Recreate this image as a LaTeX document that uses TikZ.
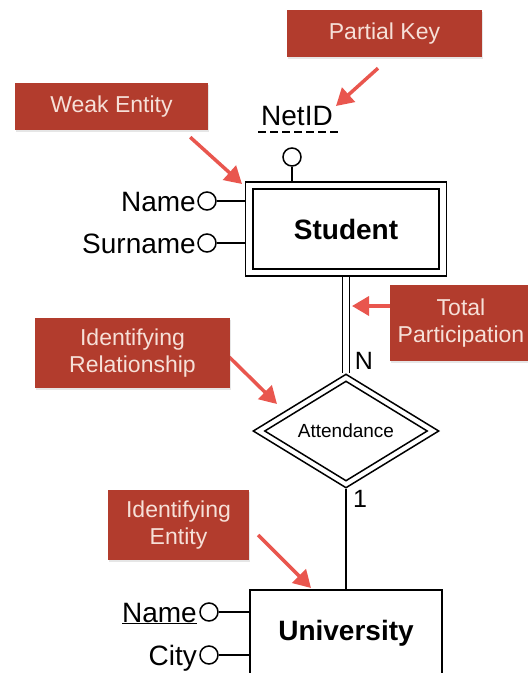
\documentclass[tikz,border=0pt]{standalone}
\usepackage{fontspec}
\setmainfont{Liberation Sans}
\usetikzlibrary{shapes.geometric,arrows.meta,calc,shadows,backgrounds}
\definecolor{callred}{RGB}{178,60,45}
\definecolor{calltext}{RGB}{246,224,216}
\definecolor{arrowred}{RGB}{233,86,78}
\begin{document}
\begin{tikzpicture}[x=1pt,y=-1pt,
  ent/.style={draw, line width=1.6pt, rectangle, inner sep=0pt},
  attr/.style={draw, circle, line width=1.5pt, minimum size=18pt, inner sep=0pt},
  lbl/.style={inner sep=0pt, font=\fontsize{28}{32}\selectfont},
  card/.style={inner sep=0pt, font=\fontsize{25}{30}\selectfont},
  call/.style={fill=callred, text=calltext, inner sep=0pt, align=center,
    font=\fontsize{23}{27}\selectfont,
    drop shadow={opacity=0.2, shadow xshift=1pt, shadow yshift=-1.5pt}},
  callarrow/.style={arrowred, line width=3.5pt, -{Triangle[length=17pt,width=19pt]}},
  conn/.style={line width=1.6pt}]
\useasboundingbox (0,0) rectangle (528,673);
\clip (0,0) rectangle (528,673);

% callout boxes
\node[call, minimum width=195pt, minimum height=47pt] (pk) at (384.5,33.5) {Partial Key};
\node[call, minimum width=193pt, minimum height=47pt] (we) at (111.5,106.5) {Weak Entity};
\node[call, minimum width=142pt, minimum height=76pt] (tp) at (461,323) {Total\\Participation};
\node[call, minimum width=195pt, minimum height=70pt] (ir) at (132.5,353) {Identifying\\Relationship};
\node[call, minimum width=141pt, minimum height=70pt] (ie) at (178.5,525) {Identifying\\Entity};

% entities and relationship
\node[ent, minimum width=201pt, minimum height=94pt, font=\bfseries\fontsize{28}{32}\selectfont] (stu) at (346,229) {Student};
\node[ent, minimum width=186pt, minimum height=80pt] (stuin) at (stu.center) {};
\node[diamond, draw, line width=1.5pt, aspect=1.6, minimum width=186pt, minimum height=114pt, inner sep=0pt, font=\fontsize{19}{22}\selectfont] (att) at (346,431) {Attendance};
\node[diamond, draw, line width=1.5pt, aspect=1.6, minimum width=163pt, minimum height=100pt, inner sep=0pt] (attin) at (att.center) {};
\node[ent, minimum width=192pt, minimum height=86pt, font=\bfseries\fontsize{28}{32}\selectfont] (uni) at (346,633) {University};

% attributes
\node[attr] (netidc) at (292,157) {};
\node[lbl, anchor=base] (netid) at (297,125) {NetID};
\node[attr] (nmc) at (207,201) {};
\node[lbl, anchor=base east] (nm) at (196,211) {Name};
\node[attr] (snc) at (207,243) {};
\node[lbl, anchor=base east] (sn) at (196,253) {Surname};
\node[attr] (unc) at (209,612) {};
\node[lbl, anchor=base east] (un) at (197,622) {\underline{Name}};
\node[attr] (ctc) at (209,655) {};
\node[lbl, anchor=base east] (ct) at (197,665) {City};

% cardinalities
\node[card] (cn) at (364,361) {N};
\node[card] (c1) at (360,499) {1};

% connectors
\draw[conn] (netidc.south) -- (netidc.south |- stu.north);
\draw[line width=1.5pt, dash pattern=on 8pt off 4pt] ([shift={(-3pt,-7pt)}]netid.base west) -- ([shift={(6pt,-7pt)}]netid.base east);
\draw[conn] (nmc.east) -- (nmc.east -| stu.west);
\draw[conn] (snc.east) -- (snc.east -| stu.west);
\draw[conn] (unc.east) -- (unc.east -| uni.west);
\draw[conn] (ctc.east) -- (ctc.east -| uni.west);
\draw[conn] ([xshift=-3.5pt]stu.south) -- ([xshift=-3.5pt]att.north);
\draw[conn] ([xshift=3.5pt]stu.south) -- ([xshift=3.5pt]att.north);
\draw[conn] (att.south) -- (uni.north);

% callout arrows
\coordinate (pkT) at (336,106);
\coordinate (weT) at (242,184);
\coordinate (tpT) at (352,306);
\coordinate (irT) at (277,404);
\coordinate (ieT) at (311,588);
\begin{scope}[on background layer]
\draw[callarrow] ([shift={(-6.5pt,-11pt)}]pk.south) -- (pkT);
\draw[callarrow] ([shift={(-18pt,-7pt)}]we.south east) -- (weT);
\draw[callarrow] ([shift={(2pt,17pt)}]tp.west) -- (tpT);
\draw[callarrow] ([shift={(-1pt,-4pt)}]ir.east) -- (irT);
\draw[callarrow] ([shift={(9pt,-10pt)}]ie.east) -- (ieT);
\end{scope}
\end{tikzpicture}
\end{document}
